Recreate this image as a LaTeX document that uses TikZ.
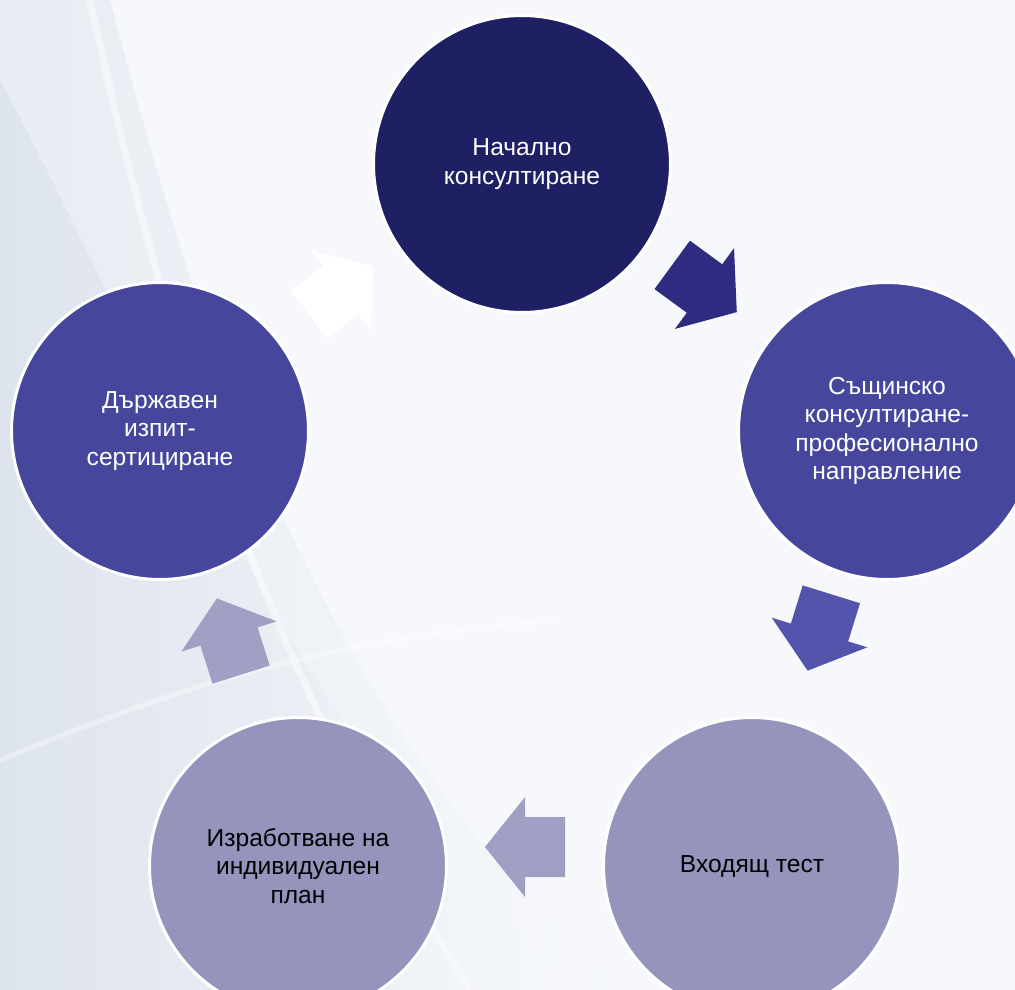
\documentclass[tikz,border=0pt]{standalone}
\usepackage{fontspec}
\setmainfont{Liberation Sans}
\usetikzlibrary{calc}

\definecolor{navy}{RGB}{31,31,99}
\definecolor{indigo}{RGB}{70,71,156}
\definecolor{lavender}{RGB}{148,148,188}
\definecolor{arrownavy}{RGB}{46,43,128}
\definecolor{arrowblue}{RGB}{84,84,172}
\definecolor{arrowlav}{RGB}{160,160,196}
\definecolor{paper}{RGB}{246,248,251}
\definecolor{streak}{RGB}{222,228,237}

\begin{document}
\begin{tikzpicture}[
    x=0.02cm, y=-0.02cm,
    stage/.style={
        circle,
        draw=white,
        line width=1.7pt,
        minimum size=5.94cm,
        inner sep=0pt,
        align=center,
        font=\fontsize{14}{16.2}\selectfont
    },
    stage dark/.style={stage, fill=navy, text=white},
    stage mid/.style={stage, fill=indigo, text=white},
    stage light/.style={stage, fill=lavender, text=black},
    block arrow/.pic={
        \fill (-40,-30) -- (0,-30) -- (0,-50) -- (40,0) -- (0,50) -- (0,30) -- (-40,30) -- cycle;
    },
    ]
    \useasboundingbox (0,0) rectangle (1015,990);
    \clip (0,0) rectangle (1015,990);

    % background swirl
    \fill[paper] (0,0) rectangle (1015,990);
    \shade[left color=streak!60!paper, right color=paper]
        (0,0) -- (110,0) .. controls (190,300) and (300,700) .. (620,990) -- (0,990) -- cycle;
    \shade[left color=streak, right color=paper]
        (0,80) .. controls (150,360) and (300,760) .. (580,990) -- (0,990) -- cycle;
    \draw[white, line width=4pt, opacity=0.45]
        (90,0) .. controls (160,320) and (250,640) .. (470,990);
    \draw[white, line width=3pt, opacity=0.35]
        (0,760) .. controls (150,700) and (300,640) .. (560,620);

    % stages
    \node[stage dark] (start) at (522,164) {Начално\\консултиране};
    \node[stage mid] (consult) at (887,431) {Същинско\\консултиране-\\професионално\\направление};
    \node[stage light] (test) at (752,866) {Входящ тест};
    \node[stage light] (plan) at (298,866) {Изработване на\\индивидуален\\план};
    \node[stage mid] (exam) at (160,431) {Държавен\\изпит-\\сертициране};

    % arrows between stages
    \path ($(start)+(0,-9)$) -- ($(consult)+(0,-9)$)
        pic[midway, sloped, allow upside down, fill=arrownavy] {block arrow};
    \path ($(consult)+(0,-16)$) -- ($(test)+(0,-16)$)
        pic[midway, sloped, allow upside down, fill=arrowblue] {block arrow};
    \path ($(test)+(0,-19)$) -- ($(plan)+(0,-19)$)
        pic[midway, sloped, allow upside down, fill=arrowlav] {block arrow};
    \path ($(plan)+(0,-12)$) -- ($(exam)+(0,-12)$)
        pic[midway, sloped, allow upside down, fill=arrowlav] {block arrow};
    \path ($(exam)+(0,-7)$) -- ($(start)+(0,-7)$)
        pic[midway, sloped, allow upside down, fill=white] {block arrow};
\end{tikzpicture}
\end{document}
